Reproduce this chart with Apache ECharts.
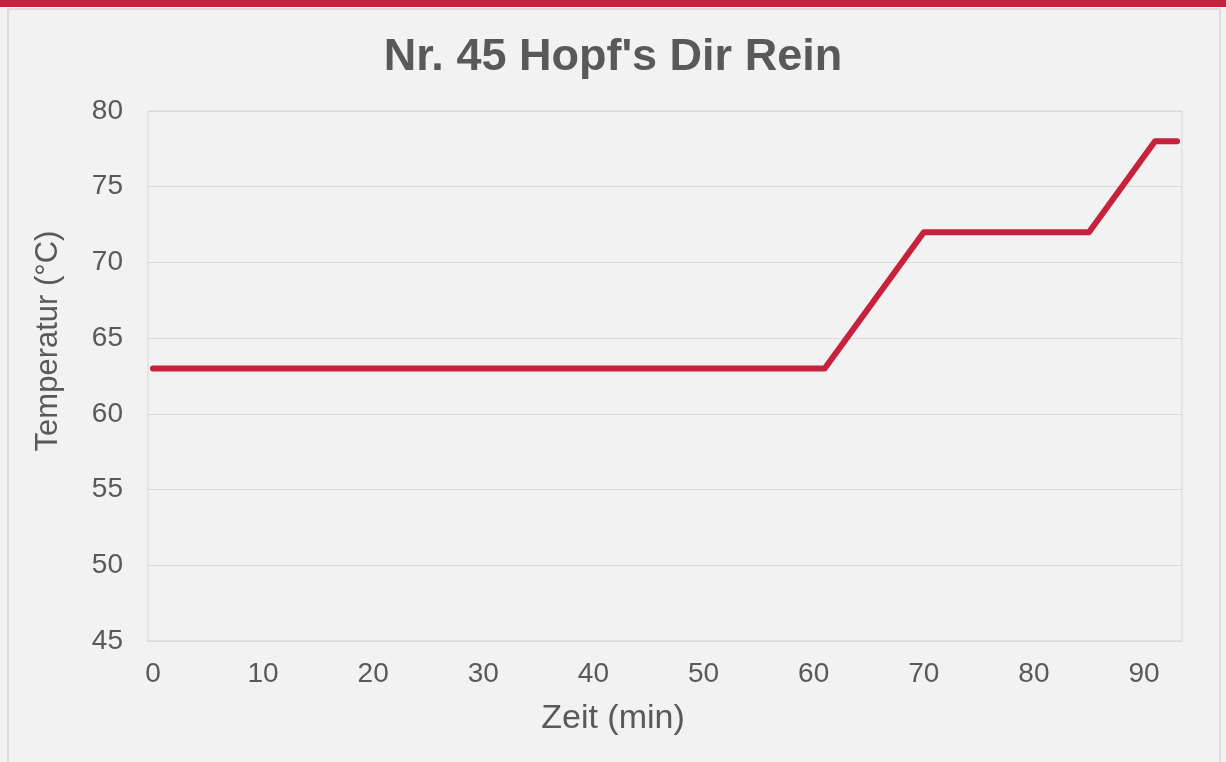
<!DOCTYPE html>
<html>
<head>
<meta charset="utf-8">
<script src="https://cdn.jsdelivr.net/npm/echarts@6/dist/echarts.min.js"></script>
<style>
  html, body { margin: 0; padding: 0; background: #f2f2f2; }
  #topBar { position: absolute; left: 0; top: 0; width: 1226px; height: 7px; background: #c8213d; }
  #gap { position: absolute; left: 0; top: 7px; width: 1226px; height: 1px; background: #ffffff; }
  #frame { position: absolute; left: 7px; top: 8px; width: 1214px; height: 760px; border: 2px solid #dcdcdc; border-bottom: none; box-sizing: border-box; }
  #chart { position: absolute; left: 0; top: 0; width: 1226px; height: 762px; }
</style>
</head>
<body>
<div id="topBar"></div>
<div id="gap"></div>
<div id="frame"></div>
<div id="chart"></div>
<script>
    // values
    const chartTitle = "Nr. 45 Hopf's Dir Rein";
    const xTitle = 'Zeit (min)';
    const yTitle = 'Temperatur (°C)';
    const timeMin = [0, 61, 70, 85, 91, 93];
    const tempC = [63, 63, 72, 72, 78, 78];
    const xTickValues = [0, 10, 20, 30, 40, 50, 60, 70, 80, 90];

    const textColor = '#595959';
    const gridColor = '#d9d9d9';
    const lineColor = '#c8213d';
    const fontFamily = '"Liberation Sans", Arial, sans-serif';

    const chart = echarts.init(document.getElementById('chart'), null, { renderer: 'canvas' });

    chart.setOption({
        backgroundColor: 'transparent',
        animation: false,
        title: {
            text: chartTitle,
            left: 'center',
            top: 30,
            textStyle: { color: textColor, fontSize: 45, fontWeight: 'bold', fontFamily },
        },
        grid: {
            left: 148,
            right: 44,
            top: 111,
            bottom: 121,
            show: true,
            borderColor: gridColor,
            borderWidth: 1,
            backgroundColor: 'transparent',
        },
        xAxis: {
            type: 'value',
            min: -0.45,
            max: 93.45,
            axisLine: { show: true, lineStyle: { color: gridColor, width: 1 } },
            axisTick: { show: false },
            splitLine: { show: false },
            axisLabel: {
                customValues: xTickValues,
                color: textColor,
                fontSize: 28,
                fontFamily,
                margin: 19,
            },
        },
        yAxis: {
            type: 'value',
            min: 45,
            max: 80,
            interval: 5,
            axisLine: { show: false },
            axisTick: { show: false },
            splitLine: { show: true, lineStyle: { color: gridColor, width: 1 } },
            axisLabel: { color: textColor, fontSize: 28, fontFamily, margin: 25, padding: [5, 0, 0, 0] },
        },
        graphic: [
            {
                type: 'text',
                left: 'center',
                top: 702,
                style: { text: xTitle, fill: textColor, font: '34px ' + fontFamily },
            },
            {
                type: 'text',
                x: 33,
                y: 341,
                rotation: Math.PI / 2,
                style: {
                    text: yTitle,
                    fill: textColor,
                    font: '31px ' + fontFamily,
                    align: 'center',
                    verticalAlign: 'top',
                },
            },
        ],
        series: [
            {
                type: 'line',
                data: timeMin.map((t, i) => [t, tempC[i]]),
                showSymbol: false,
                lineStyle: { color: lineColor, width: 6, cap: 'round', join: 'round' },
            },
        ],
    });
</script>
</body>
</html>
